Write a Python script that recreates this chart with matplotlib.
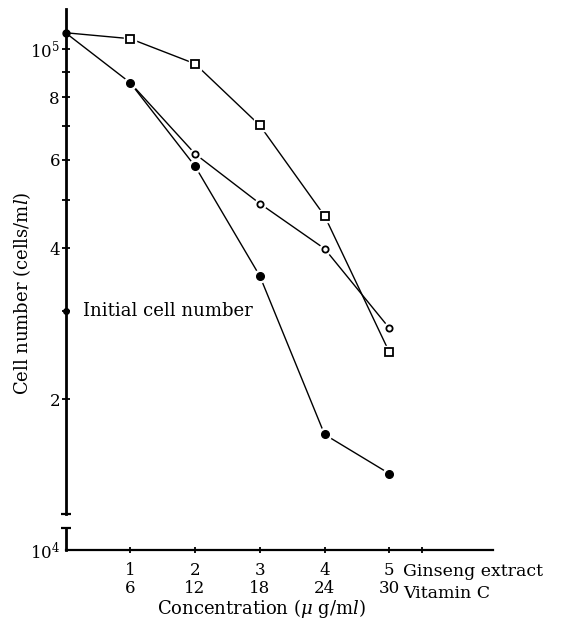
import numpy as np
import matplotlib.pyplot as plt
from matplotlib.ticker import FixedLocator, FixedFormatter, NullFormatter

plt.rcParams['font.family'] = ['DejaVu Serif']
plt.rcParams['mathtext.fontset'] = 'dejavuserif'

# Data (cells/ml)
dose = [0, 1, 2, 3, 4, 5]
ginseng_labels = ['1', '2', '3', '4', '5']
vitc_labels = ['6', '12', '18', '24', '30']
squares = [1.076e5, 1.047e5, 9.33e4, 7.03e4, 4.64e4, 2.48e4]
open_circles = [1.076e5, 8.55e4, 6.17e4, 4.91e4, 3.99e4, 2.77e4]
filled = [1.076e5, 8.55e4, 5.83e4, 3.52e4, 1.70e4, 1.42e4]
initial_cells = 3.0e4

y_major = [1e4, 2e4, 4e4, 6e4, 8e4, 1e5]
y_major_labels = [r'$10^4$', '2', '4', '6', '8', r'$10^5$']
y_minor = [3e4, 5e4, 7e4, 9e4]

fs = 12     # tick labels
fs2 = 13    # axis titles and notes

fig = plt.figure(figsize=(5.71, 6.2), dpi=100)
ax = fig.add_axes([65.5 / 571, 70 / 620, 427.5 / 571, 541 / 620])
ax.set_yscale('log')
ax.set_xlim(0, 6.6)
ax.set_ylim(1e4, 1.2e5)

# lines first, then white halos so the lines stop short of the marks
ax.plot(dose, squares, '-', color='k', lw=1.0, zorder=2)
ax.plot(dose[1:], open_circles[1:], '-', color='k', lw=1.0, zorder=2)
ax.plot(dose, filled, '-', color='k', lw=1.0, zorder=2)

ax.plot(dose[1:], squares[1:], 's', ms=9, mfc='white', mec='white', zorder=3)
ax.plot(dose[2:], open_circles[2:], 'o', ms=8, mfc='white', mec='white', zorder=3)
ax.plot(dose[1:], filled[1:], 'o', ms=9, mfc='white', mec='white', zorder=3)

ax.plot(dose[1:], squares[1:], 's', ms=5.5, mfc='white', mec='k', mew=1.3, zorder=4)
ax.plot(dose[2:], open_circles[2:], 'o', ms=4.5, mfc='white', mec='k', mew=1.3, zorder=4)
ax.plot(dose[1:], filled[1:], 'o', ms=5.5, mfc='k', mec='k', zorder=4)
ax.plot([0], [filled[0]], 'o', ms=5, color='k', clip_on=False, zorder=5)

# axes with break on the y axis
for s in ['top', 'right']:
    ax.spines[s].set_visible(False)
ax.spines['left'].set_linewidth(2.0)
ax.spines['left'].set_bounds(1.18e4, 1.2e5)
ax.spines['bottom'].set_linewidth(1.6)
ax.plot([0, 0], [1e4, 1.106e4], color='k', lw=2.0, clip_on=False, zorder=5)
ax.plot([0, 0], [1.106e4, 1.18e4], '_', color='k', ms=7, mew=1.6, clip_on=False, zorder=5)
ax.plot([0], [initial_cells], 'o', ms=4, color='k', clip_on=False, zorder=5)

ax.yaxis.set_major_locator(FixedLocator(y_major))
ax.yaxis.set_major_formatter(FixedFormatter(y_major_labels))
ax.yaxis.set_minor_locator(FixedLocator(y_minor))
ax.yaxis.set_minor_formatter(NullFormatter())
ax.tick_params(axis='y', which='both', direction='inout', length=6, width=1.3,
               labelsize=fs, pad=1)
ax.yaxis.get_major_ticks()[0].tick1line.set_visible(False)

ax.xaxis.set_major_locator(FixedLocator(dose[1:]))
ax.xaxis.set_major_formatter(FixedFormatter(
    [g + '\n' + v for g, v in zip(ginseng_labels, vitc_labels)]))
ax.xaxis.set_minor_locator(FixedLocator([5.5]))
ax.tick_params(axis='x', which='both', direction='inout', length=5, width=1.3,
               labelsize=fs, pad=6)
for lab in ax.get_xticklabels():
    lab.set_linespacing(1.1)

fig.text(403 / 571, 1 - 572 / 620, 'Ginseng extract', fontsize=fs + 0.5, va='center')
fig.text(403 / 571, 1 - 593 / 620, 'Vitamin C', fontsize=fs + 0.5, va='center')
fig.text(261 / 571, 1 - 609 / 620, r'Concentration ($\mu$ g/m$\mathit{l}$)',
         fontsize=fs2, ha='center', va='center')
fig.text(22 / 571, 1 - 293 / 620, r'Cell number (cells/m$\mathit{l}$)',
         fontsize=fs2, rotation=90, ha='center', va='center')
ax.text(0.27, initial_cells, 'Initial cell number', fontsize=fs2, va='center')

fig.savefig('out.png', dpi=100, facecolor='white')
